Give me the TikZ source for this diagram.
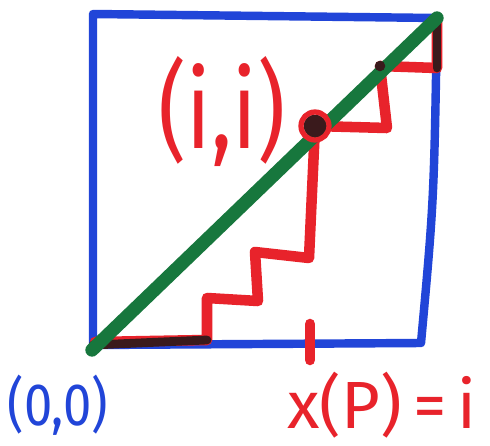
\documentclass[tikz,border=0pt]{standalone}
\usepackage{fontspec}
\setsansfont{Fira Sans}
\usetikzlibrary{calc}
\definecolor{pen}{HTML}{2145D8}
\definecolor{ink}{HTML}{E8232B}
\definecolor{leaf}{HTML}{17773D}
\definecolor{soot}{HTML}{3A1A1C}
\tikzset{
  frame/.style={draw=pen,line width=4.8pt,line cap=round,line join=round},
  diag/.style={draw=leaf,line width=7.6pt,line cap=round},
  stair/.style={draw=ink,line width=6pt,line cap=round,line join=round},
  smudge/.style={draw=soot,line width=5pt,line cap=round}
}

\begin{document}
\begin{tikzpicture}[
    x=0.02cm,y=-0.02cm,
    blot/.style={circle,fill=soot,inner sep=0pt,minimum size=#1},
    lab/.style={font=\sffamily\fontsize{#1}{#1}\selectfont}
  ]
    \useasboundingbox[fill=white] (0,0) rectangle (490,446);

    \coordinate (bl) at (93,345);
    \coordinate (tl) at (93,14);
    \coordinate (tr) at (437,18);
    \coordinate (br) at (421,343);
    \draw[frame] (bl) -- (tl) -- (tr) .. controls (434,200) .. (br) -- cycle;

    \coordinate (s0) at (95,342);
    \coordinate (s1) at (207,340);
    \coordinate (s2) at (207,298);
    \coordinate (s3) at (258,301);
    \coordinate (s4) at (255,252);
    \coordinate (s5) at (309,258);
    \coordinate (p) at (315,126);
    \coordinate (s6) at (387,128);
    \coordinate (s7) at (380,66);
    \coordinate (s8) at (437,68);
    \coordinate (s9) at (437,22);
    \draw[stair] (s0) -- (s1) -- (s2) -- (s3) -- (s4) -- (s5) -- (p) -- (s6) -- (s7) -- (s8) -- (s9);
    \draw[smudge] (bl) -- (s1);
    \draw[smudge] (s8) -- (s9);

    \draw[diag] (92,350) -- (tr);

    \node[blot=13pt] (hit) at (p) {};
    \draw[draw=ink,line width=3pt] (p) circle (14);
    \node[blot=6pt] (mid) at (s7) {};

    \node[lab=62pt,text=ink,xscale=0.8] (pt) at (222,112) {(i,i)};
    \node[lab=34pt,text=pen,xscale=0.85] (org) at (58,405) {(0,0)};
    \node[lab=38pt,text=ink] (xp) at (382,405) {x(P)\,=\,i};

    \coordinate (tk) at (310,324);
    \draw[stair] (tk) -- (310,360);
  \end{tikzpicture}
\end{document}
